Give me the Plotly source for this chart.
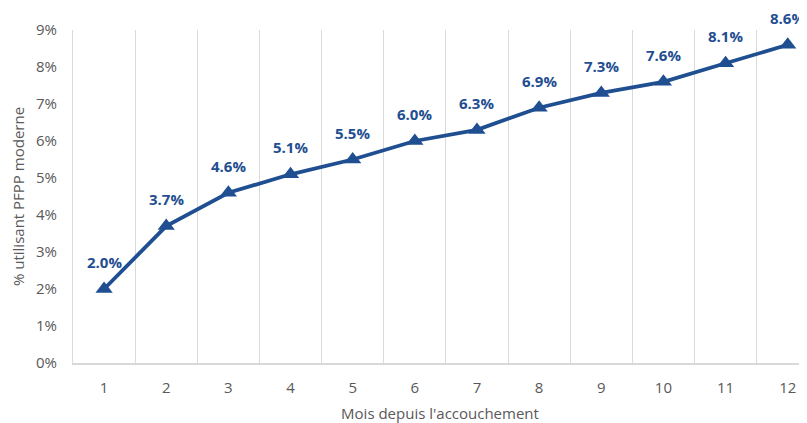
import plotly.graph_objects as go

months = ["1", "2", "3", "4", "5", "6", "7", "8", "9", "10", "11", "12"]
values = [2.0, 3.7, 4.6, 5.1, 5.5, 6.0, 6.3, 6.9, 7.3, 7.6, 8.1, 8.6]
labels = [f"{v:.1f}%" for v in values]
y_ticks = list(range(0, 10))
y_tick_labels = [f"{t}%" for t in y_ticks]

blue = "#1F4E91"
grid = "#D9D9D9"
txt = "#595959"
font_family = "Open Sans, Liberation Sans, sans-serif"

fig = go.Figure()
fig.add_trace(go.Scatter(
    x=months, y=values, mode="lines+markers",
    line=dict(color=blue, width=3.8),
    marker=dict(symbol="triangle-up", size=15, color=blue),
    cliponaxis=False, showlegend=False,
))
for i, (v, lab) in enumerate(zip(values, labels)):
    fig.add_annotation(
        x=i, y=v, text=f"<b>{lab}</b>", showarrow=False,
        yshift=27, font=dict(color=blue, size=15, family=font_family),
    )

fig.update_layout(
    width=799, height=415,
    margin=dict(l=65, r=0, t=22, b=60),
    paper_bgcolor="white", plot_bgcolor="white",
    font=dict(family=font_family, color=txt, size=15),
)
fig.update_xaxes(
    type="category", range=[-0.5, 11.31], automargin=False,
    tickson="boundaries", showgrid=True, gridcolor=grid, gridwidth=1,
    ticks="", showline=True, linecolor=grid, linewidth=2,
    ticklabelstandoff=10,
    title=dict(text="Mois depuis l'accouchement", font=dict(size=15, color=txt), standoff=14),
    tickfont=dict(size=15, color=txt),
)
fig.update_yaxes(
    range=[0, 9], tickvals=y_ticks, ticktext=y_tick_labels, automargin=False,
    showgrid=False, zeroline=False, showline=True, linecolor=grid, linewidth=1,
    ticks="", ticklabelstandoff=12,
    title=dict(text="% utilisant PFPP moderne", font=dict(size=15, color=txt), standoff=32),
    tickfont=dict(size=15, color=txt),
)

fig.write_html("out.html")
